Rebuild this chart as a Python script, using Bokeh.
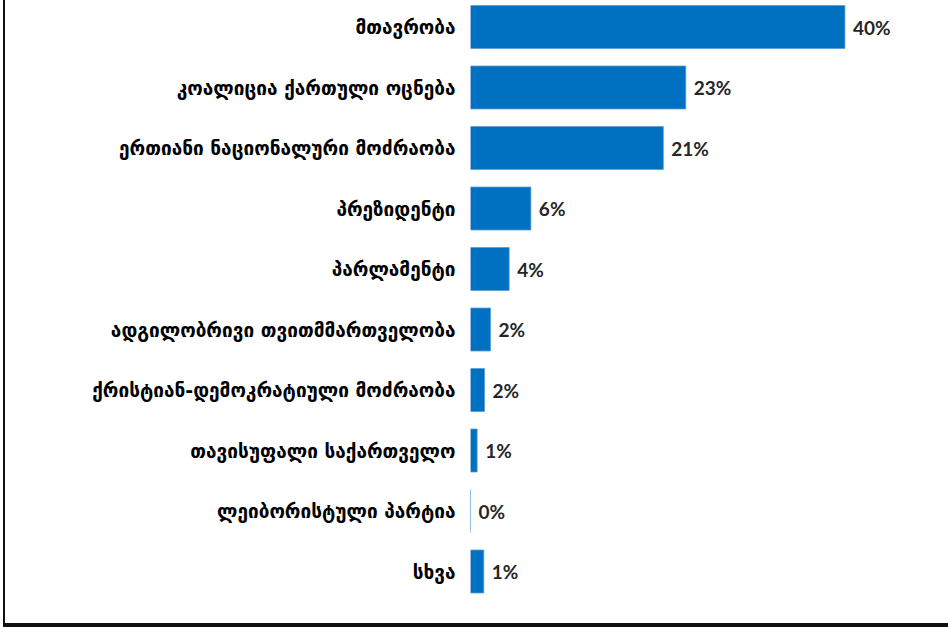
from bokeh.plotting import figure
from bokeh.models import Range1d, FixedTicker, ColumnDataSource
from bokeh.core.properties import value
from bokeh.embed import file_html
from bokeh.resources import INLINE

categories = [
    "მთავრობა",
    "კოალიცია ქართული ოცნება",
    "ერთიანი ნაციონალური მოძრაობა",
    "პრეზიდენტი",
    "პარლამენტი",
    "ადგილობრივი თვითმმართველობა",
    "ქრისტიან-დემოკრატიული მოძრაობა",
    "თავისუფალი საქართველო",
    "ლეიბორისტული პარტია",
    "სხვა",
]
values = [40.0, 23.0, 20.6, 6.45, 4.13, 2.14, 1.5, 0.71, 0.0, 1.42]
value_labels = ["40%", "23%", "21%", "6%", "4%", "2%", "2%", "1%", "0%", "1%"]

n = len(categories)
pos = list(range(n))

src = ColumnDataSource(dict(y=pos, v=values, lab=value_labels))

W, H = 948, 627
left = 470
px_per_unit_x = 9.36
row_px = 60.5
top_units = 26.5 / row_px

p = figure(
    width=W, height=H,
    output_backend="svg", toolbar_location=None,
    x_range=Range1d(0, (W - left) / px_per_unit_x),
    y_range=Range1d(start=-top_units + H / row_px, end=-top_units),
    x_axis_location=None,
    min_border_left=left, min_border_right=0,
    min_border_top=0, min_border_bottom=0,
)
p.styles = {
    "background-color": "white",
    "box-shadow": "inset 3px 0 0 0 #ffffff, inset 5px 0 0 0 #111111, inset 0 -4px 0 0 #111111",
}
p.outline_line_color = None
p.xgrid.visible = False
p.ygrid.visible = False
p.background_fill_alpha = 0
p.border_fill_alpha = 0

p.hbar(y="y", right="v", left=0, height=0.71, source=src,
       fill_color="#0070C0", line_color="#5B9BD5", line_width=0.8)

p.text(x="v", y="y", text="lab", source=src, x_offset=8,
       text_align="left", text_baseline="middle",
       text_font=value("Lato"), text_font_style="bold",
       text_font_size="19px", text_color="#262626")

ax = p.yaxis[0]
ax.ticker = FixedTicker(ticks=pos)
ax.major_label_overrides = {i: c for i, c in zip(pos, categories)}
ax.axis_line_color = None
ax.major_tick_line_color = None
ax.minor_tick_line_color = None
ax.major_tick_out = 0
ax.major_tick_in = 0
ax.major_label_standoff = 15
ax.major_label_text_font = "DejaVu Sans"
ax.major_label_text_font_style = "bold"
ax.major_label_text_font_size = "19px"
ax.major_label_text_color = "#000000"

open("out.html", "w").write(file_html(p, INLINE))
